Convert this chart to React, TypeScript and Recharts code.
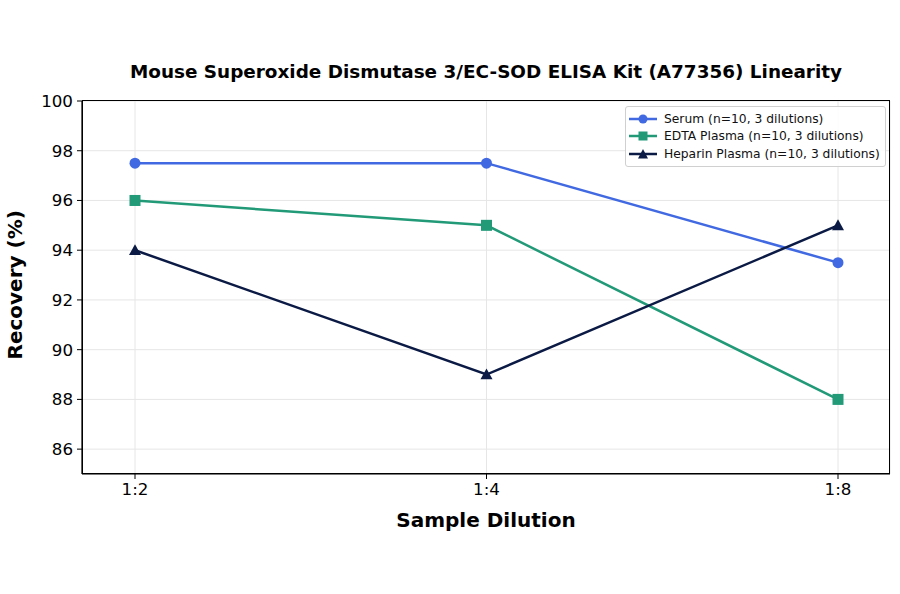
import React from "react";
import { LineChart, Line, XAxis, YAxis, CartesianGrid } from "recharts";

const dilutions = ["1:2", "1:4", "1:8"];
const serum = [97.5, 97.5, 93.5];
const edta = [96, 95, 88];
const heparin = [94, 89, 95];
const yTicks = [86, 88, 90, 92, 94, 96, 98, 100];

const FONT = "DejaVu Sans, sans-serif";
const C_SERUM = "#4169e1";
const C_EDTA = "#229a78";
const C_HEP = "#0b1a44";

const data = dilutions.map((d, i) => ({
  d,
  serum: serum[i],
  edta: edta[i],
  heparin: heparin[i],
}));

function Triangle(props: any) {
  const { cx, cy, fill } = props;
  if (cx == null || cy == null) return null;
  const s = 6;
  return (
    <path
      d={`M ${cx} ${cy - s} L ${cx - s} ${cy + s * 0.8} L ${cx + s} ${cy + s * 0.8} Z`}
      fill={fill}
    />
  );
}

function Square(props: any) {
  const { cx, cy, fill } = props;
  if (cx == null || cy == null) return null;
  const s = 5.5;
  return <rect x={cx - s} y={cy - s} width={s * 2} height={s * 2} fill={fill} />;
}

function Circle(props: any) {
  const { cx, cy, fill } = props;
  if (cx == null || cy == null) return null;
  return <circle cx={cx} cy={cy} r={5.5} fill={fill} />;
}

const legendItems = [
  { label: "Serum (n=10, 3 dilutions)", color: C_SERUM, shape: "circle" },
  { label: "EDTA Plasma (n=10, 3 dilutions)", color: C_EDTA, shape: "square" },
  { label: "Heparin Plasma (n=10, 3 dilutions)", color: C_HEP, shape: "triangle" },
];

function LegendBox() {
  return (
    <div
      style={{
        position: "absolute",
        left: 625,
        top: 106,
        border: "1px solid #d0d0d0",
        borderRadius: 3,
        background: "rgba(255,255,255,0.85)",
        padding: "3px 5px 3px 2px",
        fontFamily: FONT,
        fontSize: 12.3,
        color: "#111",
      }}
    >
      {legendItems.map((it) => (
        <div key={it.label} style={{ display: "flex", alignItems: "center", height: 17.5 }}>
          <svg width={30} height={14} style={{ marginRight: 6 }}>
            <line x1={1} x2={29} y1={7} y2={7} stroke={it.color} strokeWidth={2.5} />
            {it.shape === "circle" && <circle cx={15} cy={7} r={4.5} fill={it.color} />}
            {it.shape === "square" && <rect x={10.5} y={2.5} width={9} height={9} fill={it.color} />}
            {it.shape === "triangle" && <path d="M 15 2 L 10 11.5 L 20 11.5 Z" fill={it.color} />}
          </svg>
          <span>{it.label}</span>
        </div>
      ))}
    </div>
  );
}

export default function App() {
  return (
    <div style={{ position: "absolute", left: 0, top: 0, width: 900, height: 594, background: "#fff" }}>
      <div
        style={{
          position: "absolute",
          left: 82,
          width: 808,
          top: 61,
          textAlign: "center",
          fontFamily: FONT,
          fontWeight: "bold",
          fontSize: 18.4,
          color: "#000",
        }}
      >
        Mouse Superoxide Dismutase 3/EC-SOD ELISA Kit (A77356) Linearity
      </div>
      <LineChart
        width={900}
        height={594}
        data={data}
        margin={{ top: 101, right: 10, bottom: 0, left: 22 }}
      >
        <CartesianGrid stroke="#e6e6e6" strokeWidth={1} />
        <XAxis
          dataKey="d"
          padding={{ left: 53, right: 52 }}
          height={120}
          stroke="#000"
          tick={{ fill: "#000", fontSize: 16.7, fontFamily: FONT }}
          tickSize={5}
          tickMargin={4}
          axisLine={{ stroke: "#000", strokeWidth: 1.2 }}
          tickLine={{ stroke: "#000" }}
          label={{
            value: "Sample Dilution",
            position: "insideTop",
            dy: 34,
            fill: "#000",
            fontSize: 20,
            fontWeight: "bold",
            fontFamily: FONT,
          }}
        />
        <YAxis
          domain={[85, 100]}
          ticks={yTicks}
          width={60}
          allowDataOverflow
          tick={{ fill: "#000", fontSize: 16.7, fontFamily: FONT }}
          tickSize={5}
          tickMargin={4}
          axisLine={{ stroke: "#000", strokeWidth: 1.2 }}
          tickLine={{ stroke: "#000" }}
          label={{
            value: "Recovery (%)",
            angle: -90,
            position: "insideLeft",
            dx: -12,
            dy: 72,
            fill: "#000",
            fontSize: 20,
            fontWeight: "bold",
            fontFamily: FONT,
          }}
        />
        <Line
          dataKey="serum"
          stroke={C_SERUM}
          strokeWidth={2.5}
          dot={<Circle fill={C_SERUM} />}
          isAnimationActive={false}
        />
        <Line
          dataKey="edta"
          stroke={C_EDTA}
          strokeWidth={2.5}
          dot={<Square fill={C_EDTA} />}
          isAnimationActive={false}
        />
        <Line
          dataKey="heparin"
          stroke={C_HEP}
          strokeWidth={2.5}
          dot={<Triangle fill={C_HEP} />}
          isAnimationActive={false}
        />
      </LineChart>
      <div
        style={{
          position: "absolute",
          left: 82,
          top: 100,
          width: 808,
          height: 374,
          border: "1.2px solid #000",
          boxSizing: "border-box",
          pointerEvents: "none",
        }}
      />
      <LegendBox />
    </div>
  );
}
